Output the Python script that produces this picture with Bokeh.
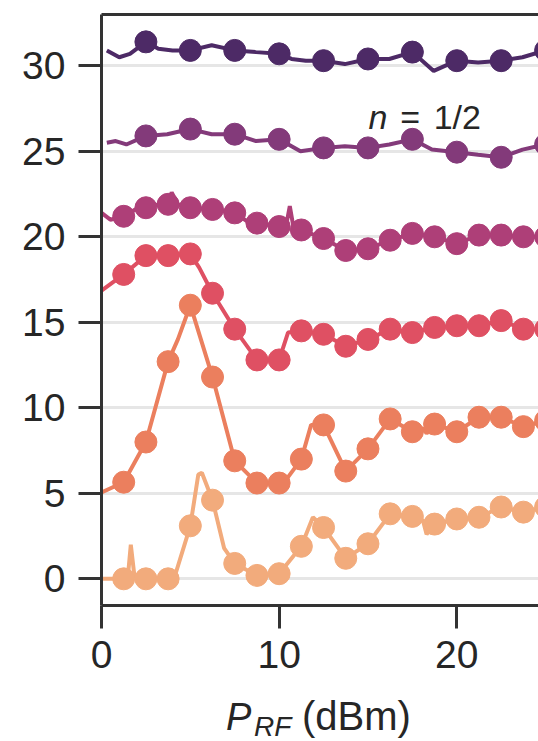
from bokeh.plotting import figure
from bokeh.models import FixedTicker, LinearAxis, Label, Range1d, Div
from bokeh.layouts import column
from bokeh.embed import file_html
from bokeh.resources import INLINE

# ---- data ----
colors = ["#f2ab7c", "#eb7f5e", "#df5063", "#ae3f78", "#833a7a", "#4d2a66"]

# dense marker series (every 1.25 dBm)
mx_dense = [1.25, 2.5, 3.75, 5.0, 6.25, 7.5, 8.75, 10.0, 11.25, 12.5, 13.75, 15.0,
            16.25, 17.5, 18.75, 20.0, 21.25, 22.5, 23.75, 25.0]
# sparse marker series (every 2.5 dBm)
mx_sparse = [2.5, 5.0, 7.5, 10.0, 12.5, 15.0, 17.5, 20.0, 22.5, 25.0]

s0_my = [0.0, 0.0, 0.0, 3.1, 4.6, 0.9, 0.2, 0.3, 1.9, 3.0, 1.2, 2.05,
         3.8, 3.65, 3.2, 3.5, 3.6, 4.2, 3.9, 4.2]
s1_my = [5.65, 8.0, 12.7, 16.0, 11.8, 6.9, 5.6, 5.6, 7.0, 9.0, 6.3, 7.6,
         9.35, 8.6, 9.05, 8.6, 9.45, 9.45, 8.9, 9.25]
s2_my = [17.8, 18.9, 18.9, 19.0, 16.7, 14.6, 12.8, 12.8, 14.5, 14.3, 13.6, 14.0,
         14.6, 14.4, 14.7, 14.8, 14.8, 15.1, 14.6, 14.6]
s3_my = [21.2, 21.7, 21.9, 21.7, 21.6, 21.4, 20.8, 20.6, 20.4, 19.9, 19.2, 19.3,
         19.8, 20.2, 20.0, 19.6, 20.1, 20.1, 20.0, 20.0]
s4_my = [25.9, 26.3, 26.0, 25.7, 25.2, 25.2, 25.7, 24.95, 24.65, 25.4]
s5_my = [31.4, 30.9, 30.9, 30.7, 30.3, 30.4, 30.8, 30.3, 30.3, 30.9]

# continuous traces
s0_lx = [0, 1.25, 1.5, 1.65, 1.85, 2.5, 3.75, 4.2, 5.0, 5.45, 5.65, 6.25, 6.9, 7.5,
         8.75, 10, 11.25, 11.9, 12.5, 13.75, 15, 16.25, 17.5, 18.1, 18.3, 18.75,
         20, 21.25, 22.5, 23.75, 25]
s0_ly = [0, 0, 0.3, 2.0, 0.2, 0, 0, 0.4, 3.1, 6.1, 6.2, 4.6, 1.8, 0.9,
         0.2, 0.3, 1.9, 3.6, 3.0, 1.2, 2.05, 3.8, 3.65, 3.4, 2.6, 3.2,
         3.5, 3.6, 4.2, 3.9, 4.2]
s1_lx = [0, 1.25, 2.5, 3.75, 4.3, 5.0, 6.25, 7.5, 8.75, 10, 10.5, 11.25, 11.8, 12.5,
         13.75, 15, 16.25, 17.5, 18.1, 18.3, 18.75, 20, 21.25, 22.5, 23.75, 25]
s1_ly = [5.05, 5.65, 8.0, 12.7, 14.0, 16.0, 11.8, 6.9, 5.6, 5.6, 5.95, 7.0, 9.0, 9.0,
         6.3, 7.6, 9.35, 8.6, 8.8, 8.5, 9.05, 8.6, 9.45, 9.45, 8.9, 9.25]
s2_lx = [0, 1.25, 2.5, 3.75, 5.0, 5.5, 6.25, 7.5, 8.75, 10, 10.5, 11.25, 12.5,
         13.75, 15, 16.25, 17.5, 18.75, 20, 21.25, 22.5, 23.75, 25]
s2_ly = [16.85, 17.8, 18.9, 18.9, 19.0, 18.2, 16.7, 14.6, 12.8, 12.8, 14.4, 14.5, 14.3,
         13.6, 14.0, 14.6, 14.4, 14.7, 14.8, 14.8, 15.1, 14.6, 14.6]
s3_lx = [0.0, 0.5, 1.25, 1.9, 2.5, 3.2, 3.75, 3.95, 4.3, 5, 6.25, 7.5, 8.2, 8.75, 9.4,
         10, 10.4, 10.6, 10.8, 11.25, 12.5, 13.75, 15, 16.25, 17.5, 18.75, 20,
         21.25, 22.5, 23.75, 25]
s3_ly = [21.4, 21.0, 21.2, 21.6, 21.7, 21.9, 21.9, 22.6, 21.9, 21.7, 21.6, 21.4, 20.9,
         20.8, 20.7, 20.6, 20.7, 21.8, 20.6, 20.4, 19.9, 19.2, 19.3, 19.8, 20.2,
         20.0, 19.6, 20.1, 20.1, 20.0, 20.0]
s4_lx = [0.3, 0.8, 1.4, 2.5, 3.7, 5.0, 6.2, 7.5, 8.7, 10, 11.2, 12.5, 13.7, 15, 16.2,
         17.5, 18.6, 20, 21.2, 22.5, 23.7, 25]
s4_ly = [25.5, 25.6, 25.4, 25.9, 26.0, 26.3, 26.0, 26.0, 25.6, 25.7, 25.0, 25.2, 25.3,
         25.2, 25.4, 25.7, 25.1, 24.95, 24.8, 24.65, 25.1, 25.4]
s5_lx = [0.3, 1.0, 1.6, 2.5, 3.2, 4.0, 5.0, 6.2, 7.5, 8.7, 10, 10.7, 11.5, 12.5, 13.7,
         15, 16.2, 17.5, 18.7, 20, 21.2, 22.5, 23.7, 25]
s5_ly = [30.9, 30.5, 30.7, 31.4, 31.0, 30.9, 30.9, 31.2, 30.9, 30.8, 30.7, 30.4, 30.3,
         30.3, 30.1, 30.4, 30.4, 30.8, 29.7, 30.3, 30.2, 30.3, 30.5, 30.9]

y_ticks = [0, 5, 10, 15, 20, 25, 30]
x_ticks = [0, 10, 20]

# ---- figure ----
FONT = "Liberation Sans"
TXT = "#262626"
SP = "#333333"

p = figure(width=538, height=690, output_backend="svg", toolbar_location=None,
           x_range=Range1d(0, 24.6), y_range=Range1d(-1.56, 33.0),
           min_border_left=101, min_border_right=0, min_border_top=14,
           min_border_bottom=85, x_axis_location="below")
p.outline_line_color = None
p.background_fill_color = "white"
p.border_fill_color = "white"

p.xgrid.grid_line_color = None
p.ygrid.grid_line_color = "#e6e6e6"
p.ygrid.grid_line_width = 3
p.ygrid.ticker = FixedTicker(ticks=y_ticks)

for ax, ticks in ((p.xaxis, x_ticks), (p.yaxis, y_ticks)):
    ax.ticker = FixedTicker(ticks=ticks)
    ax.axis_line_color = SP
    ax.axis_line_width = 3
    ax.major_tick_line_color = SP
    ax.major_tick_line_width = 3
    ax.major_tick_in = 0
    ax.major_tick_out = 23
    ax.minor_tick_line_color = None
    ax.major_label_text_font = FONT
    ax.major_label_text_font_size = "39px"
    ax.major_label_text_color = TXT
p.yaxis.major_label_standoff = 13
p.xaxis.major_label_standoff = 12

top = LinearAxis(ticker=FixedTicker(ticks=[]), axis_line_color=SP, axis_line_width=3,
                 major_tick_out=0, major_tick_in=0, minor_tick_line_color=None,
                 major_label_standoff=0, major_label_text_font_size="0px")
p.add_layout(top, "above")

series = [
    (s0_lx, s0_ly, mx_dense, s0_my),
    (s1_lx, s1_ly, mx_dense, s1_my),
    (s2_lx, s2_ly, mx_dense, s2_my),
    (s3_lx, s3_ly, mx_dense, s3_my),
    (s4_lx, s4_ly, mx_sparse, s4_my),
    (s5_lx, s5_ly, mx_sparse, s5_my),
]
for (lx, ly, mx, my), c in zip(series, colors):
    p.line(lx, ly, line_color=c, line_width=4)
    p.scatter(mx, my, size=22, fill_color=c, line_color=c)

# annotation n = 1/2
ANN_Y = 27.0
for xx, t, style in ((15.03, "n", "italic"), (16.82, "=", "normal"), (18.7, "1/2", "normal")):
    p.add_layout(Label(x=xx, y=ANN_Y, text=t, text_font=FONT, text_font_style=style,
                       text_font_size="34px", text_color=TXT, text_baseline="alphabetic"))

# x-axis label P_RF (dBm) as real text below the plot
label_html = (
    '<div style="position:relative;width:538px;height:51px;'
    'font-family:\'Liberation Sans\';color:#262626;">'
    '<span style="position:absolute;left:226px;top:8px;font-size:38px;'
    'font-style:italic;line-height:1;white-space:nowrap;">P</span>'
    '<span style="position:absolute;left:254px;top:23px;font-size:28px;'
    'font-style:italic;line-height:1;white-space:nowrap;">RF</span>'
    '<span style="position:absolute;left:302px;top:6px;font-size:40px;'
    'line-height:1;white-space:nowrap;">(dBm)</span>'
    '</div>'
)
xlabel = Div(text=label_html, width=538, height=51, margin=(0, 0, 0, 0))

layout = column(p, xlabel, spacing=0, margin=(0, 0, 0, 0))
open("out.html", "w").write(file_html(layout, INLINE))
